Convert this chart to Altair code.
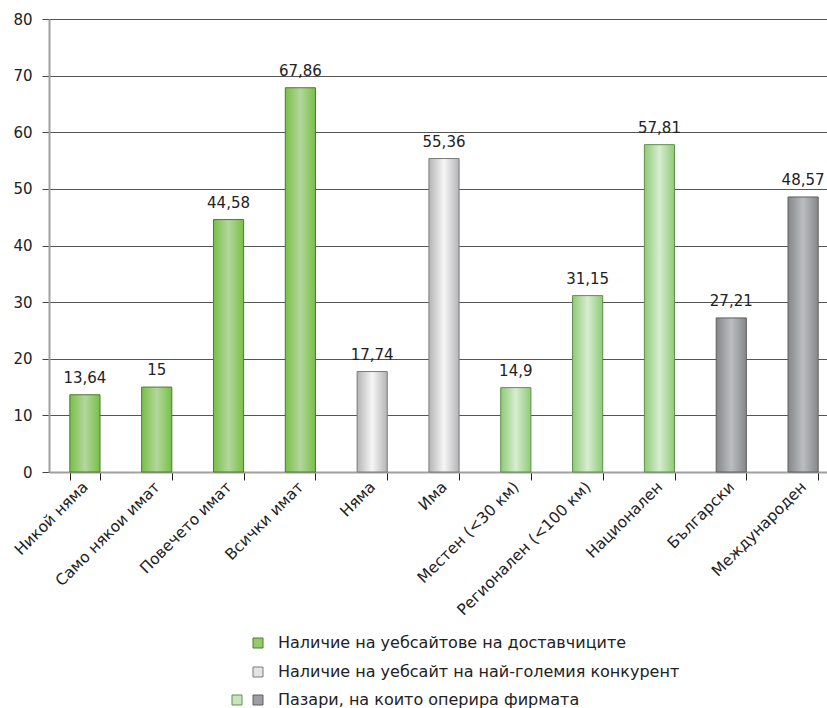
import altair as alt
import pandas as pd

# Categories along the x axis and their percentages
categories = [
    "Никой няма", "Само някои имат", "Повечето имат", "Всички имат",
    "Няма", "Има",
    "Местен (<30  км)", "Регионален (<100 км)", "Национален",
    "Български", "Международен",
]
values = [13.64, 15, 44.58, 67.86, 17.74, 55.36, 14.9, 31.15, 57.81, 27.21, 48.57]
labels = ["13,64", "15", "44,58", "67,86", "17,74", "55,36", "14,9", "31,15", "57,81", "27,21", "48,57"]
groups = ["dg", "dg", "dg", "dg", "lgr", "lgr", "lg", "lg", "lg", "dgr", "dgr"]

legend_texts = [
    "Наличие на уебсайтове на доставчиците",
    "Наличие на уебсайт на най-големия конкурент",
    "Пазари, на които оперира фирмата",
]

df = pd.DataFrame({"cat": categories, "val": values, "lab": labels, "grp": groups})

FONT = "DejaVu Sans"
INK = "#222222"


def grad(edge, mid):
    return alt.Gradient(
        gradient="linear",
        x1=0, x2=1, y1=0, y2=0,
        stops=[
            alt.GradientStop(color=edge, offset=0),
            alt.GradientStop(color=mid, offset=0.5),
            alt.GradientStop(color=edge, offset=1),
        ],
    )


styles = {
    "dg": (grad("#78bf48", "#b3d79c"), "#4c7a2e"),
    "lgr": (grad("#b4b4b6", "#f6f6f6"), "#7a7a7a"),
    "lg": (grad("#8ecb76", "#d8ecd2"), "#5f8f4b"),
    "dgr": (grad("#86878b", "#bcbdc1"), "#5e5e60"),
}

x_enc = alt.X(
    "cat:N",
    sort=categories,
    scale=alt.Scale(paddingInner=0.58, paddingOuter=0.29, range=[0, 790]),
    axis=alt.Axis(
        title=None,
        labelAngle=-45,
        labelAlign="right",
        labelBaseline="middle",
        labelFont=FONT,
        labelFontSize=15.5,
        labelColor=INK,
        labelPadding=4,
        tickBand="extent",
        ticks=True,
        tickSize=8,
        tickColor=INK,
        domainColor="#a0a0a0",
        domainWidth=2,
        grid=False,
        labelLimit=300,
    ),
)
y_enc = alt.Y(
    "val:Q",
    scale=alt.Scale(domain=[0, 80], nice=False),
    axis=alt.Axis(
        title=None,
        values=list(range(0, 81, 10)),
        labelFont=FONT,
        labelFontSize=15,
        labelColor=INK,
        labelPadding=10,
        tickSize=7,
        tickColor="#444444",
        domainColor="#a0a0a0",
        domainWidth=2,
        gridColor="#555555",
        gridWidth=1,
    ),
)

base = alt.Chart(df)

layers = []
for g, (fill, stroke) in styles.items():
    layers.append(
        base.transform_filter(alt.datum.grp == g)
        .mark_bar(color=fill, stroke=stroke, strokeWidth=1)
        .encode(x=x_enc, y=y_enc)
    )

text = base.mark_text(
    baseline="bottom", dy=-9, font=FONT, fontSize=15, color=INK
).encode(x=x_enc, y=y_enc, text="lab:N")

# Legend rows drawn below the plot (pixel offsets from the plot's top-left)
leg_df = pd.DataFrame({
    "t": legend_texts,
    "ypx": [624, 653, 681],
})
leg_sq = pd.DataFrame({
    "ypx": [624, 653, 681, 681],
    "xpx": [209, 209, 188, 209],
    "k": ["dg", "lgr", "lg", "dgr"],
})

leg_text = alt.Chart(leg_df).mark_text(
    align="left", baseline="middle", font=FONT, fontSize=16, color=INK
).encode(x=alt.value(229), y=alt.Y("ypx:Q", scale=None), text="t:N")

fill_flat = {"dg": "#95c96c", "lgr": "#e4e4e4", "lg": "#c9e5bd", "dgr": "#9d9ea2"}
leg_layers = []
for k, (fill, stroke) in styles.items():
    leg_layers.append(
        alt.Chart(leg_sq).transform_filter(alt.datum.k == k)
        .mark_square(size=100, color=fill_flat[k], stroke=stroke,
                     strokeWidth=1, opacity=1, filled=True)
        .encode(x=alt.X("xpx:Q", scale=None), y=alt.Y("ypx:Q", scale=None))
    )

chart = alt.layer(*layers, text, leg_text, *leg_layers).properties(
    width=778,
    height=453,
    autosize=alt.AutoSizeParams(type="none"),
    padding={"left": 49, "top": 19, "right": 0, "bottom": 236},
).configure_view(stroke=None).configure(background="white")

chart.save("out.html", embed_options={"renderer": "svg", "actions": False})
